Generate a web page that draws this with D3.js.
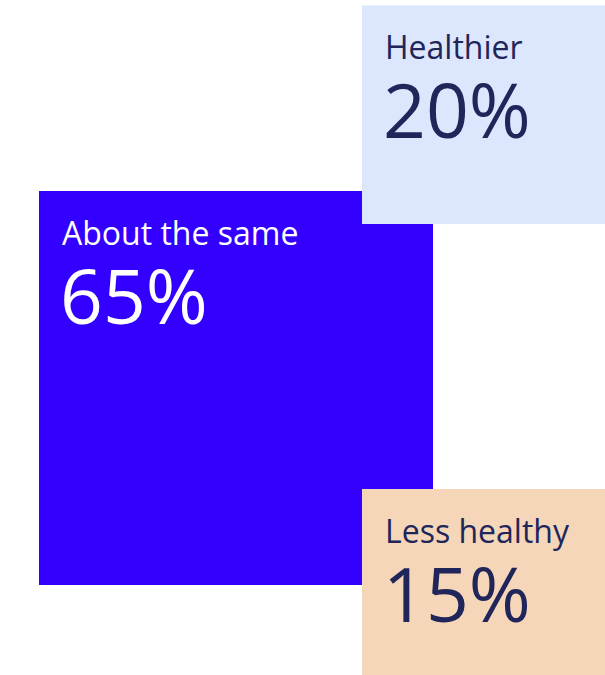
<!DOCTYPE html>
<html>
<head>
<meta charset="utf-8">
<script src="https://cdn.jsdelivr.net/npm/d3@7"></script>
<style>
  html, body { margin: 0; padding: 0; background: #fff; overflow: hidden; }
  svg { display: block; }
  text { font-family: "Open Sans", "Noto Sans", sans-serif; }
</style>
</head>
<body>
<svg id="chart"></svg>
<script>
// Share of respondents by how healthy they feel compared with before
const categories = ["Healthier", "About the same", "Less healthy"];
const shares = [20, 65, 15];
const fills = ["#dce6fc", "#3300ff", "#f5d6b8"];
const textColors = ["#20255a", "#ffffff", "#20255a"];

const W = 605, H = 675;
const svg = d3.select("#chart").attr("width", W).attr("height", H);

// square side proportional to the square root of the share (area encodes value)
const side = d3.scaleSqrt().domain([0, 65]).range([0, 394]);

const big = { x: 39, y: 191 };
const bigSide = side(shares[1]);
const smallX = big.x + bigSide - 71;

const layout = [
  { x: smallX, y: big.y + 33 - side(shares[0]) },
  { x: big.x, y: big.y },
  { x: smallX, y: big.y + bigSide - 96 }
];

const data = categories.map((c, i) => ({
  name: c, value: shares[i], fill: fills[i], color: textColors[i],
  x: layout[i].x, y: layout[i].y, s: side(shares[i])
}));

// draw big square first, then the two smaller overlapping ones
const order = [1, 0, 2];
const g = svg.selectAll("g.box")
  .data(order.map(i => data[i]))
  .join("g")
  .attr("class", "box")
  .attr("transform", d => `translate(${d.x},${d.y})`);

g.append("rect")
  .attr("width", d => d.name === "About the same" ? d.s : Math.max(d.s, W - d.x))
  .attr("height", d => d.s)
  .attr("fill", d => d.fill);

g.append("text")
  .attr("x", 23)
  .attr("y", 53.5)
  .attr("fill", d => d.color)
  .style("font-size", "32px")
  .text(d => d.name);

g.append("text")
  .attr("x", 21)
  .attr("y", 132.5)
  .attr("fill", d => d.color)
  .style("font-size", "75px")
  .text(d => d.value + "%");
</script>
</body>
</html>
